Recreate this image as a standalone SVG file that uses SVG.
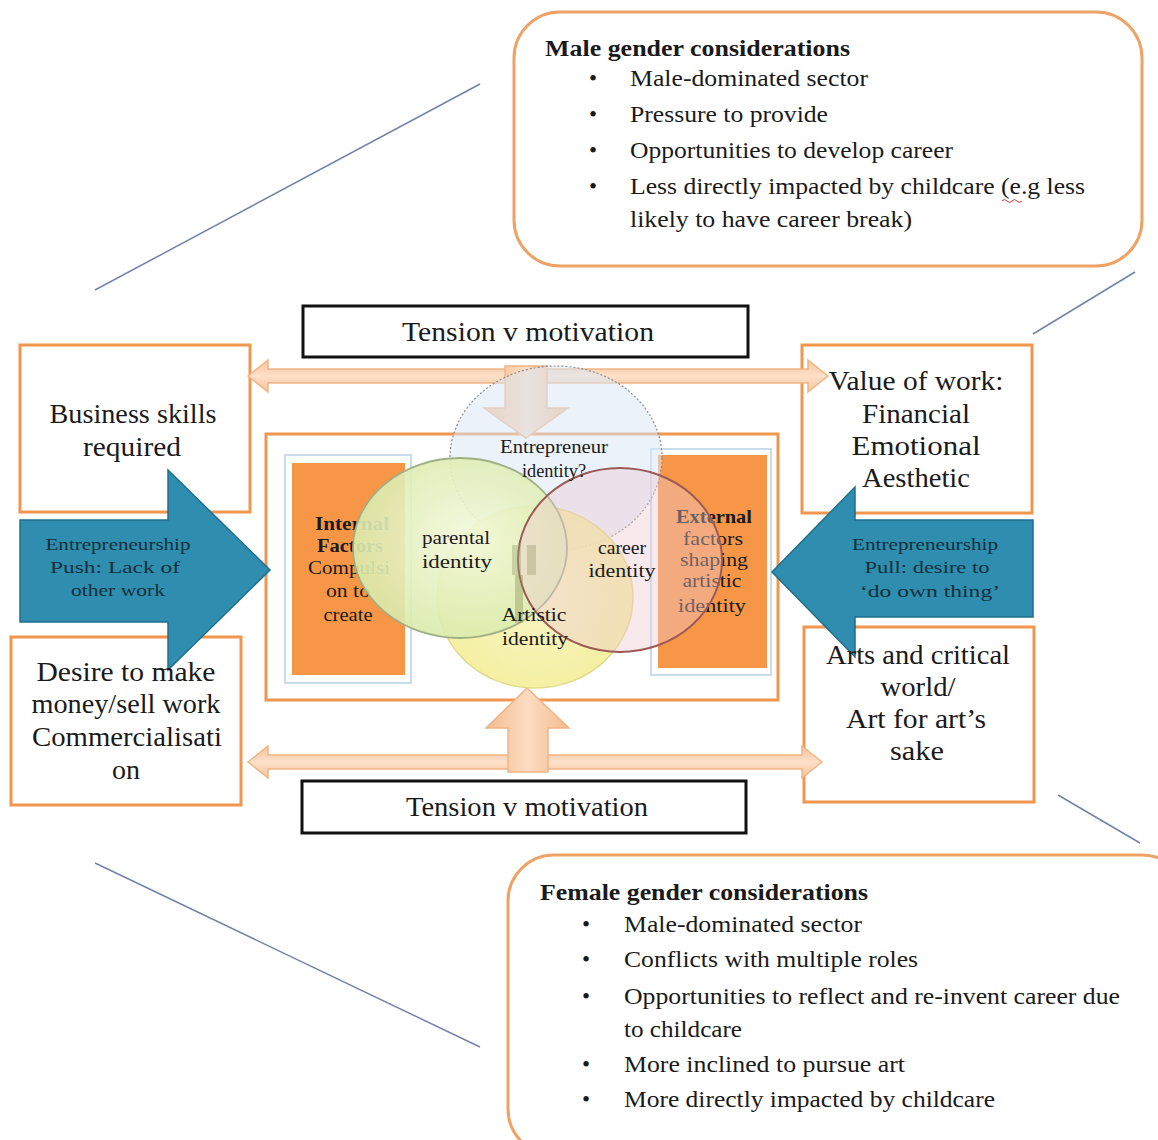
<svg xmlns="http://www.w3.org/2000/svg" width="1158" height="1140" viewBox="0 0 1158 1140">
  <defs>
    <style>
      .serif { font-family: "Liberation Serif", "Times New Roman", serif; fill: #1a1a1a; }
      .big { font-size: 27px; text-anchor: middle; }
      .list { font-size: 23px; }
      .head { font-size: 23px; font-weight: bold; }
      .small { font-size: 18px; text-anchor: middle; }
      .arrowtxt { font-size: 17px; text-anchor: middle; fill: #13303a; }
      .obox { fill: #ffffff; stroke: #f0964f; stroke-width: 3; }
      .rbox { fill: #ffffff; stroke: #eea266; stroke-width: 3; }
      .tbox { fill: #ffffff; stroke: #111111; stroke-width: 3; }
      .diag { stroke: #7282a8; stroke-width: 1.5; fill: none; }
      .peach { fill: url(#peachV); stroke: #efb486; stroke-width: 1.5; }
      .peachH { fill: url(#peachH); stroke: #efb486; stroke-width: 1.5; }
      .blue { fill: #2f8db0; stroke: #1f6f8c; stroke-width: 1.5; }
      .core { fill: #f79646; }
      .mat { fill: #ffffff; stroke: #c9dcec; stroke-width: 2; }
    </style>
    <linearGradient id="peachV" x1="0" y1="0" x2="0" y2="1">
      <stop offset="0" stop-color="#f6c39a"/>
      <stop offset="0.5" stop-color="#fde0c8"/>
      <stop offset="1" stop-color="#f6c39a"/>
    </linearGradient>
    <linearGradient id="peachH" x1="0" y1="0" x2="1" y2="0">
      <stop offset="0" stop-color="#f4bb8e"/>
      <stop offset="0.5" stop-color="#fcdcc2"/>
      <stop offset="1" stop-color="#f4bb8e"/>
    </linearGradient>
    <radialGradient id="greenFill" cx="0.55" cy="0.45" r="0.6">
      <stop offset="0" stop-color="#f3f8dc"/>
      <stop offset="1" stop-color="#d8eaa8"/>
    </radialGradient>
    <radialGradient id="yellowFill" cx="0.5" cy="0.5" r="0.6">
      <stop offset="0" stop-color="#f8f4bc"/>
      <stop offset="1" stop-color="#f2ec8e"/>
    </radialGradient>
  </defs>

  <rect x="0" y="0" width="1158" height="1140" fill="#ffffff"/>

  <!-- thin guide lines linking the gender panels -->
  <g id="connectors">
    <line class="diag" x1="95" y1="290" x2="480" y2="84"/>
    <line class="diag" x1="1033" y1="334" x2="1135" y2="272"/>
    <line class="diag" x1="95" y1="863" x2="480" y2="1047"/>
    <line class="diag" x1="1058" y1="795" x2="1140" y2="843"/>
  </g>

  <!-- male panel -->
  <g id="male-panel">
    <rect class="rbox" x="514" y="12" width="628" height="254" rx="46"/>
    <text class="serif head" x="545" y="56" textLength="305" lengthAdjust="spacingAndGlyphs">Male gender considerations</text>
    <g class="serif list">
      <text x="589" y="86">•</text>
      <text x="630" y="86" textLength="238" lengthAdjust="spacingAndGlyphs">Male-dominated sector</text>
      <text x="589" y="122">•</text>
      <text x="630" y="122" textLength="198" lengthAdjust="spacingAndGlyphs">Pressure to provide</text>
      <text x="589" y="158">•</text>
      <text x="630" y="158" textLength="323" lengthAdjust="spacingAndGlyphs">Opportunities to develop career</text>
      <text x="589" y="194">•</text>
      <text x="630" y="194" textLength="455" lengthAdjust="spacingAndGlyphs">Less directly impacted by childcare (e.g less</text>
      <text x="630" y="227" textLength="282" lengthAdjust="spacingAndGlyphs">likely to have career break)</text>
    </g>
    <path d="M1002 201 q2.5 -3 5 0 t5 0 t5 0 t5 0" fill="none" stroke="#d03030" stroke-width="1"/>
  </g>

  <!-- female panel -->
  <g id="female-panel">
    <rect class="rbox" x="508" y="855" width="680" height="300" rx="46"/>
    <text class="serif head" x="540" y="900" textLength="328" lengthAdjust="spacingAndGlyphs">Female gender considerations</text>
    <g class="serif list">
      <text x="582" y="932">•</text>
      <text x="624" y="932" textLength="238" lengthAdjust="spacingAndGlyphs">Male-dominated sector</text>
      <text x="582" y="967">•</text>
      <text x="624" y="967" textLength="294" lengthAdjust="spacingAndGlyphs">Conflicts with multiple roles</text>
      <text x="582" y="1004">•</text>
      <text x="624" y="1004" textLength="496" lengthAdjust="spacingAndGlyphs">Opportunities to reflect and re-invent career due</text>
      <text x="624" y="1037" textLength="118" lengthAdjust="spacingAndGlyphs">to childcare</text>
      <text x="582" y="1072">•</text>
      <text x="624" y="1072" textLength="281" lengthAdjust="spacingAndGlyphs">More inclined to pursue art</text>
      <text x="582" y="1107">•</text>
      <text x="624" y="1107" textLength="371" lengthAdjust="spacingAndGlyphs">More directly impacted by childcare</text>
    </g>
  </g>

  <!-- side box frames -->
  <g id="business-skills">
    <rect class="obox" x="20" y="345" width="230" height="167"/>
  </g>
  <g id="make-money">
    <rect class="obox" x="11" y="637" width="230" height="168"/>
  </g>
  <g id="value-of-work">
    <rect class="obox" x="802" y="345" width="230" height="168"/>
  </g>
  <g id="arts-world">
    <rect class="obox" x="804" y="627" width="230" height="175"/>
  </g>

  <!-- tension labels -->
  <g id="tension-top">
    <rect class="tbox" x="303" y="306" width="445" height="51"/>
    <text class="serif big" x="528" y="341" textLength="252" lengthAdjust="spacingAndGlyphs">Tension v motivation</text>
  </g>
  <g id="tension-bottom">
    <rect class="tbox" x="302" y="781" width="444" height="52"/>
    <text class="serif big" x="527" y="816" textLength="242" lengthAdjust="spacingAndGlyphs">Tension v motivation</text>
  </g>

  <!-- central frame with internal and external factor panels -->
  <g id="identity-frame">
    <rect x="266" y="434" width="512" height="266" fill="#ffffff" stroke="#f0964f" stroke-width="3"/>
  </g>
  <g id="internal-factors">
    <rect class="mat" x="285" y="455" width="126" height="228"/>
    <rect class="core" x="292" y="463" width="113" height="212"/>
    <text class="serif small" x="352" y="530" font-weight="bold" textLength="74" lengthAdjust="spacingAndGlyphs">Internal</text>
    <text class="serif small" x="350" y="552" font-weight="bold" textLength="66" lengthAdjust="spacingAndGlyphs">Factors</text>
    <text class="serif small" x="349" y="574" fill="#5a1a00" textLength="82" lengthAdjust="spacingAndGlyphs">Compulsi</text>
    <text class="serif small" x="348" y="597" textLength="44" lengthAdjust="spacingAndGlyphs">on to</text>
    <text class="serif small" x="348" y="621" textLength="49" lengthAdjust="spacingAndGlyphs">create</text>
  </g>
  <g id="external-factors">
    <rect class="mat" x="651" y="449" width="120" height="226"/>
    <rect class="core" x="658" y="455" width="109" height="213"/>
    <text class="serif small" x="714" y="523" font-weight="bold" textLength="76" lengthAdjust="spacingAndGlyphs">External</text>
    <text class="serif small" x="713" y="545" textLength="60" lengthAdjust="spacingAndGlyphs">factors</text>
    <text class="serif small" x="714" y="566" textLength="68" lengthAdjust="spacingAndGlyphs">shaping</text>
    <text class="serif small" x="712" y="587" textLength="59" lengthAdjust="spacingAndGlyphs">artistic</text>
    <text class="serif small" x="712" y="612" textLength="68" lengthAdjust="spacingAndGlyphs">identity</text>
  </g>

  <!-- tension arrows -->
  <g id="arrows">
    <path class="peach" d="M248 376 L268 360 L268 369 L808 369 L808 360 L828 376 L808 392 L808 383 L268 383 L268 392 Z"/>
    <path class="peach" d="M248 762 L268 746 L268 755 L802 755 L802 746 L822 762 L802 778 L802 769 L268 769 L268 778 Z"/>
    <path class="peachH" d="M505 366 L547 366 L547 408 L568 408 L526 438 L484 408 L505 408 Z"/>
    <path class="peachH" d="M527 688 L569 728 L548 728 L548 772 L508 772 L508 728 L486 728 Z"/>
  </g>

  <!-- overlapping identities -->
  <g id="entrepreneur-identity">
    <ellipse cx="556" cy="458" rx="106" ry="92" fill="#dbe7f6" fill-opacity="0.55" stroke="#8c8c8c" stroke-width="1.2" stroke-dasharray="2 2"/>
  </g>
  <g id="artistic-identity">
    <ellipse cx="535" cy="597" rx="98" ry="91" fill="url(#yellowFill)" fill-opacity="0.88" stroke="#e2da8c" stroke-width="1.5"/>
  </g>
  <g id="parental-identity">
    <ellipse cx="460" cy="548" rx="107" ry="90" fill="url(#greenFill)" fill-opacity="0.9" stroke="#9fae84" stroke-width="1.8"/>
  </g>
  <g id="career-identity">
    <ellipse cx="620" cy="560" rx="102" ry="92" fill="#eec7d2" fill-opacity="0.4" stroke="#9c5a55" stroke-width="2"/>
  </g>
  <g id="identity-labels">
    <rect x="512" y="545" width="9" height="30" fill="#9aa070" fill-opacity="0.4"/>
    <rect x="527" y="545" width="9" height="30" fill="#9aa070" fill-opacity="0.4"/>
    <rect x="515" y="575" width="8" height="48" fill="#8a8e55" fill-opacity="0.4"/>
    <text class="serif small" x="554" y="453" textLength="108" lengthAdjust="spacingAndGlyphs">Entrepreneur</text>
    <text class="serif small" x="554" y="477" textLength="64" lengthAdjust="spacingAndGlyphs">identity?</text>
    <text class="serif small" x="456" y="544" textLength="68" lengthAdjust="spacingAndGlyphs">parental</text>
    <text class="serif small" x="457" y="568" textLength="70" lengthAdjust="spacingAndGlyphs">identity</text>
    <text class="serif small" x="622" y="554" textLength="48" lengthAdjust="spacingAndGlyphs">career</text>
    <text class="serif small" x="622" y="577" textLength="67" lengthAdjust="spacingAndGlyphs">identity</text>
    <text class="serif small" x="534" y="621" textLength="65" lengthAdjust="spacingAndGlyphs">Artistic</text>
    <text class="serif small" x="535" y="645" textLength="66" lengthAdjust="spacingAndGlyphs">identity</text>
  </g>

  <!-- push / pull arrows -->
  <g id="push-arrow">
    <path class="blue" d="M20 520 L168 520 L168 470 L270 570 L168 670 L168 622 L20 622 Z"/>
    <text class="serif arrowtxt" x="118" y="550" textLength="145" lengthAdjust="spacingAndGlyphs">Entrepreneurship</text>
    <text class="serif arrowtxt" x="115" y="573" textLength="130" lengthAdjust="spacingAndGlyphs">Push: Lack of</text>
    <text class="serif arrowtxt" x="118" y="596" textLength="94" lengthAdjust="spacingAndGlyphs">other work</text>
  </g>
  <g id="pull-arrow">
    <path class="blue" d="M1033 520 L855 520 L855 487 L772 572 L855 657 L855 617 L1033 617 Z"/>
    <text class="serif arrowtxt" x="925" y="550" textLength="146" lengthAdjust="spacingAndGlyphs">Entrepreneurship</text>
    <text class="serif arrowtxt" x="927" y="573" textLength="125" lengthAdjust="spacingAndGlyphs">Pull: desire to</text>
    <text class="serif arrowtxt" x="930" y="597" textLength="140" lengthAdjust="spacingAndGlyphs">‘do own thing’</text>
  </g>

  <!-- side box labels -->
  <g class="serif big">
    <text x="133" y="423" textLength="167" lengthAdjust="spacingAndGlyphs">Business skills</text>
    <text x="132" y="456" textLength="98" lengthAdjust="spacingAndGlyphs">required</text>
    <text x="126" y="681" textLength="179" lengthAdjust="spacingAndGlyphs">Desire to make</text>
    <text x="126" y="713" textLength="189" lengthAdjust="spacingAndGlyphs">money/sell work</text>
    <text x="127" y="746" textLength="190" lengthAdjust="spacingAndGlyphs">Commercialisati</text>
    <text x="126" y="779" textLength="28" lengthAdjust="spacingAndGlyphs">on</text>
    <text x="916" y="390" textLength="175" lengthAdjust="spacingAndGlyphs">Value of work:</text>
    <text x="916" y="423" textLength="108" lengthAdjust="spacingAndGlyphs">Financial</text>
    <text x="916" y="455" textLength="129" lengthAdjust="spacingAndGlyphs">Emotional</text>
    <text x="916" y="487" textLength="108" lengthAdjust="spacingAndGlyphs">Aesthetic</text>
    <text x="918" y="664" textLength="184" lengthAdjust="spacingAndGlyphs">Arts and critical</text>
    <text x="918" y="696" textLength="75" lengthAdjust="spacingAndGlyphs">world/</text>
    <text x="916" y="728" textLength="140" lengthAdjust="spacingAndGlyphs">Art for art’s</text>
    <text x="917" y="760" textLength="54" lengthAdjust="spacingAndGlyphs">sake</text>
  </g>
</svg>
